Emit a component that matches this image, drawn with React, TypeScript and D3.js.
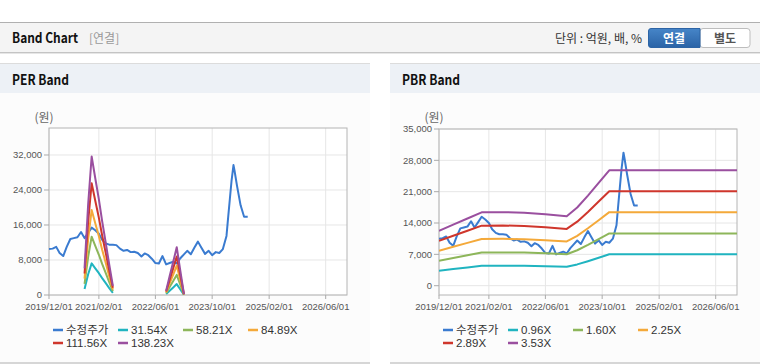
import React from 'react';
import * as d3 from 'd3';

const parseDate = d3.timeParse('%Y-%m-%d');
const parseTick = d3.timeParse('%Y/%m/%d');

// ---- data ----
const priceDates = [
  '2019-12-01', '2020-01-01', '2020-02-01', '2020-03-01', '2020-04-01', '2020-05-01', '2020-06-01',
  '2020-07-01', '2020-08-01', '2020-09-01', '2020-10-01', '2020-11-01', '2020-12-01', '2021-01-01',
  '2021-02-01', '2021-03-01', '2021-04-01', '2021-05-01', '2021-06-01', '2021-07-01', '2021-08-01',
  '2021-09-01', '2021-10-01', '2021-11-01', '2021-12-01', '2022-01-01', '2022-02-01', '2022-03-01',
  '2022-04-01', '2022-05-01', '2022-06-01', '2022-07-01', '2022-08-01', '2022-09-01', '2022-10-01',
  '2022-11-01', '2022-12-01', '2023-01-01', '2023-02-01', '2023-03-01', '2023-04-01', '2023-05-01',
  '2023-06-01', '2023-07-01', '2023-08-01', '2023-09-01', '2023-10-01', '2023-11-01', '2023-12-01',
  '2024-01-01', '2024-02-01', '2024-02-15', '2024-03-01', '2024-03-15', '2024-04-01', '2024-04-10',
  '2024-05-01', '2024-06-01', '2024-07-01', '2024-08-01',
];
const priceValues = [
  10500, 10600, 11000, 9600, 8900, 11000, 12800,
  13000, 13200, 14400, 13000, 14200, 15400, 14800,
  14000, 12600, 11800, 11500, 11500, 11400, 10600,
  10100, 10300, 9800, 9900, 9600, 8800, 9500,
  9100, 8300, 7300, 7200, 8900, 7000, 7300,
  7600, 7200, 8400, 9300, 10100, 9300, 10800,
  12200, 10800, 9400, 10100, 9100, 9800, 9600,
  10500, 13500, 17700, 22000, 26000, 29700, 28400,
  25000, 20500, 17900, 17900,
];

// trailing EPS (won) behind PER band; null = no band
const epsDates = [
  '2020-10-01', '2020-11-01', '2020-12-01', '2021-01-01', '2021-02-01', '2021-03-01', '2021-04-01',
  '2021-05-01', '2021-06-01', '2021-07-01',
  '2022-09-01', '2022-10-01', '2022-11-01', '2022-12-01', '2023-01-01', '2023-02-01',
];
const epsValues = [44, 150, 229, 193, 158, 122, 86, 50, 15, null, 7, 31, 55, 79, 40, 1.5];

// BPS (won) behind PBR band
const bpsDates = [
  '2019-12-01', '2020-04-01', '2020-08-01', '2020-12-01', '2021-06-01', '2021-12-01', '2022-06-01',
  '2022-12-01', '2023-03-01', '2023-06-01', '2023-09-01', '2023-12-01', '2026-12-01',
];
const bpsValues = [3470, 3860, 4250, 4640, 4650, 4620, 4520, 4390, 4950, 5700, 6500, 7300, 7300];

const perMultiples = [31.54, 58.21, 84.89, 111.56, 138.23];
const perLabels = ['31.54X', '58.21X', '84.89X', '111.56X', '138.23X'];
const pbrMultiples = [0.96, 1.6, 2.25, 2.89, 3.53];
const pbrLabels = ['0.96X', '1.60X', '2.25X', '2.89X', '3.53X'];
const priceLabel = '수정주가';

const xTickLabels = ['2019/12/01', '2021/02/01', '2022/06/01', '2023/10/01', '2025/02/01', '2026/06/01'];
const xDomainLabels = ['2019/12/01', '2026/12/01'];
const perYTicks = [0, 8000, 16000, 24000, 32000];
const pbrYTicks = [0, 7000, 14000, 21000, 28000, 35000];
const perYDomain = [0, 38170];
const pbrYDomain = [-2080, 35000];

const priceColor = '#3a7bd0';
const bandColors = ['#20b4c0', '#8db65a', '#f4a93a', '#cf362c', '#9a4f9f'];

const LATIN = "'Liberation Sans', Arial, 'Noto Sans CJK KR', sans-serif";
const KR = "'Noto Sans CJK KR', 'Noto Sans', sans-serif";

type Pt = { d: Date; v: number | null };

function BandChart(props: {
  ox: number;
  left: number;
  right: number;
  top: number;
  bottom: number;
  yDomain: number[];
  yTicks: number[];
  baseDates: string[];
  baseValues: (number | null)[];
  multiples: number[];
  labels: string[];
  title: string;
  titleWidth: number;
  clipId: string;
}) {
  const { ox, left, right, top, bottom, yDomain, yTicks, baseDates, baseValues, multiples, labels, title, titleWidth, clipId } = props;
  const x = d3
    .scaleTime()
    .domain([parseTick(xDomainLabels[0]) as Date, parseTick(xDomainLabels[1]) as Date])
    .range([left, right]);
  const y = d3.scaleLinear().domain(yDomain).range([bottom, top]);
  const line = d3
    .line<Pt>()
    .defined((p) => p.v !== null)
    .x((p) => x(p.d))
    .y((p) => y(p.v as number));

  const pricePts: Pt[] = priceDates.map((s, i) => ({ d: parseDate(s) as Date, v: priceValues[i] }));
  const bands = multiples.map((m) =>
    baseDates.map((s, i) => ({ d: parseDate(s) as Date, v: baseValues[i] === null ? null : (baseValues[i] as number) * m }))
  );
  const xTicks = xTickLabels.map((s) => parseTick(s) as Date);
  const fmt = d3.format(',');

  const legendItems = [{ label: priceLabel, color: priceColor }].concat(
    labels.map((l, i) => ({ label: l, color: bandColors[i] }))
  );

  return (
    <g>
      {/* panel */}
      <rect x={ox} y={63} width={370} height={1} fill="#dcdcdc" />
      <rect x={ox} y={64} width={370} height={29} fill="#edf1f6" />
      <rect x={ox} y={93} width={370} height={269} fill="#fcfcfc" />
      <rect x={ox} y={362} width={370} height={2} fill="#d6d6d6" />
      <text
        x={ox + 12}
        y={85}
        fontFamily={KR}
        fontWeight="bold"
        fontSize={14}
        fill="#111"
        textLength={titleWidth}
        lengthAdjust="spacingAndGlyphs"
      >
        {title}
      </text>

      {/* grid */}
      <rect x={left} y={top} width={right - left} height={bottom - top} fill="#ffffff" />
      {xTicks.map((t, i) => (
        <line key={'gx' + i} x1={x(t)} x2={x(t)} y1={top} y2={bottom} stroke="#e6e6e6" />
      ))}
      {yTicks.map((t, i) => (
        <line key={'gy' + i} x1={left} x2={right} y1={y(t)} y2={y(t)} stroke="#e6e6e6" />
      ))}
      <rect x={left} y={top} width={right - left} height={bottom - top} fill="none" stroke="#b4b4b4" />

      {/* y axis */}
      {yTicks.map((t, i) => (
        <g key={'yt' + i}>
          <line x1={left - 5} x2={left} y1={y(t)} y2={y(t)} stroke="#aaa" />
          <text
            x={left - 7}
            y={y(t)}
            dy="0.35em"
            textAnchor="end"
            fontFamily={LATIN}
            fontSize={9.5}
            fill="#555"
          >
            {fmt(t)}
          </text>
        </g>
      ))}
      <text x={left - 5} y={122} textAnchor="middle" fontFamily={KR} fontSize={12} fill="#666">
        (원)
      </text>

      {/* x axis */}
      {xTicks.map((t, i) => (
        <g key={'xt' + i}>
          <line x1={x(t)} x2={x(t)} y1={bottom} y2={bottom + 4} stroke="#aaa" />
          <text x={x(t)} y={310} textAnchor="middle" fontFamily={LATIN} fontSize={9.5} fill="#555">
            {xTickLabels[i]}
          </text>
        </g>
      ))}

      {/* series */}
      <defs>
        <clipPath id={clipId}>
          <rect x={left} y={top} width={right - left} height={bottom - top} />
        </clipPath>
      </defs>
      <g clipPath={`url(#${clipId})`}>
        <path d={line(pricePts) || ''} fill="none" stroke={priceColor} strokeWidth={2} strokeLinejoin="round" />
        {bands.map((b, i) => (
          <path key={'b' + i} d={line(b) || ''} fill="none" stroke={bandColors[i]} strokeWidth={2} strokeLinejoin="round" />
        ))}
      </g>

      {/* legend */}
      {legendItems.map((it, i) => {
        const col = i % 4;
        const row = Math.floor(i / 4);
        const lx = ox + 53 + col * 65;
        const ly = 330 + row * 13;
        return (
          <g key={'lg' + i}>
            <line x1={lx} x2={lx + 10} y1={ly} y2={ly} stroke={it.color} strokeWidth={2.5} />
            <text x={lx + 13} y={ly} dy="0.36em" fontFamily={LATIN} fontSize={11.5} fill="#333">
              {it.label}
            </text>
          </g>
        );
      })}
    </g>
  );
}

export default function App() {
  return (
    <svg
      width={760}
      height={364}
      style={{ position: 'absolute', left: 0, top: 0, display: 'block' }}
      xmlns="http://www.w3.org/2000/svg"
    >
      <rect x={0} y={0} width={760} height={364} fill="#ffffff" />
      {/* top header */}
      <rect x={0} y={22} width={760} height={1} fill="#b0b0b0" />
      <rect x={0} y={23} width={760} height={29} fill="#f4f4f4" />
      <rect x={0} y={52} width={760} height={1} fill="#c4c4c4" />
      <rect x={0} y={53} width={760} height={1} fill="#e6e6e6" />
      <text
        x={12}
        y={43}
        fontFamily={KR}
        fontWeight="bold"
        fontSize={14}
        fill="#111"
        textLength={66}
        lengthAdjust="spacingAndGlyphs"
      >
        Band Chart
      </text>
      <text x={89} y={43} fontFamily={KR} fontSize={12} fill="#999">
        [연결]
      </text>
      <text x={642} y={43} textAnchor="end" fontFamily={KR} fontSize={12} fill="#333">
        단위 : 억원, 배, %
      </text>
      <defs>
        <linearGradient id="btnBlue" x1="0" y1="0" x2="0" y2="1">
          <stop offset="0" stopColor="#4685c8" />
          <stop offset="1" stopColor="#2a63a6" />
        </linearGradient>
      </defs>
      <rect x={700} y={28.5} width={50} height={19} rx={3} fill="#ffffff" stroke="#bdbdbd" />
      <path d="M651,28.5 H700 V47.5 H651 Q648.5,47.5 648.5,45 V31 Q648.5,28.5 651,28.5 Z" fill="url(#btnBlue)" stroke="#2d64a5" />
      <text x={674} y={42.5} textAnchor="middle" fontFamily={KR} fontWeight="bold" fontSize={12} fill="#ffffff">
        연결
      </text>
      <text x={725} y={42.5} textAnchor="middle" fontFamily={KR} fontWeight="bold" fontSize={12} fill="#555">
        별도
      </text>

      <BandChart
        ox={0}
        left={49}
        right={347}
        top={128}
        bottom={295}
        yDomain={perYDomain}
        yTicks={perYTicks}
        baseDates={epsDates}
        baseValues={epsValues}
        multiples={perMultiples}
        labels={perLabels}
        title="PER Band"
        titleWidth={57}
        clipId="clipPer"
      />
      <BandChart
        ox={390}
        left={439}
        right={737}
        top={129}
        bottom={295}
        yDomain={pbrYDomain}
        yTicks={pbrYTicks}
        baseDates={bpsDates}
        baseValues={bpsValues}
        multiples={pbrMultiples}
        labels={pbrLabels}
        title="PBR Band"
        titleWidth={58}
        clipId="clipPbr"
      />
    </svg>
  );
}
